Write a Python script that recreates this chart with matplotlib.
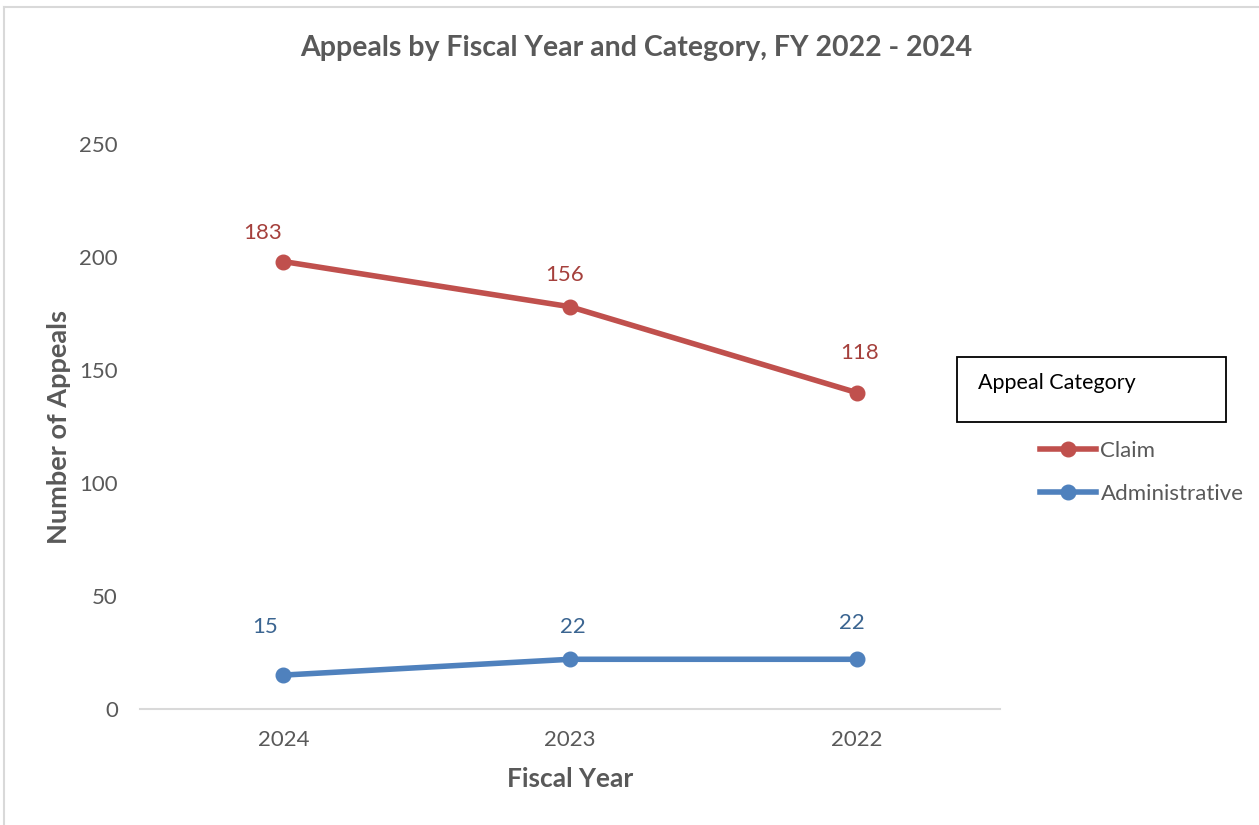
import matplotlib
matplotlib.use("Agg")
from matplotlib import pyplot as plt
from matplotlib.patches import Rectangle
from matplotlib.lines import Line2D
import numpy as np

plt.rcParams['font.family'] = ['Lato', 'DejaVu Sans']

years = ["2024", "2023", "2022"]
claim = [183, 156, 118]
administrative = [15, 22, 22]

# label offsets from the points, in pixels
claim_off = [(-21, 29), (-5, 32), (3, 40)]
admin_off = [(-18, 48), (3, 32), (-5, 36)]

grey = "#595959"
red = "#C0504D"
blue = "#4F81BD"

fig = plt.figure(figsize=(12.59, 8.25), dpi=100)
ax = fig.add_axes([140 / 1259, 1 - 709 / 825, 860 / 1259, 565 / 825])

xs = np.arange(len(years))
admin_vals = np.array(administrative)
# stacked line: claim sits on top of administrative
claim_vals = admin_vals + np.array(claim)

ax.plot(xs, claim_vals, color=red, lw=4, marker="o", ms=10.5, solid_capstyle="round")
ax.plot(xs, admin_vals, color=blue, lw=4, marker="o", ms=10.5, solid_capstyle="round")

for x, y, v, off in zip(xs, claim_vals, claim, claim_off):
    ax.annotate(str(v), (x, y), xytext=off, textcoords="offset pixels",
                ha="center", va="center", fontsize=16, color="#A5403C")
for x, y, v, off in zip(xs, admin_vals, administrative, admin_off):
    ax.annotate(str(v), (x, y), xytext=off, textcoords="offset pixels",
                ha="center", va="center", fontsize=16, color="#3B6591")

ax.set_xlim(-0.5, 2.5)
ax.set_ylim(0, 250)
ax.set_yticks(range(0, 251, 50))
ax.set_xticks(xs)
ax.set_xticklabels(years)
ax.tick_params(length=0, labelsize=16, labelcolor=grey)
ax.tick_params(axis="x", pad=15)
ax.tick_params(axis="y", pad=16)
for s in ["top", "right", "left"]:
    ax.spines[s].set_visible(False)
ax.spines["bottom"].set_color("#D9D9D9")
ax.spines["bottom"].set_linewidth(1.5)

fig.text(636 / 1259, 1 - 48 / 825, "Appeals by Fiscal Year and Category, FY 2022 - 2024",
         ha="center", va="center", fontsize=20.5, fontweight="bold", color=grey)
fig.text(59 / 1259, 1 - 427 / 825, "Number of Appeals", rotation=90,
         ha="center", va="center", fontsize=19.5, fontweight="bold", color=grey)
fig.text(570 / 1259, 1 - 779 / 825, "Fiscal Year",
         ha="center", va="center", fontsize=19, fontweight="bold", color=grey)

# legend title box
fig.patches.append(Rectangle((957 / 1259, 1 - 422 / 825), 269 / 1259, 65 / 825,
                             transform=fig.transFigure, fill=False, ec="black", lw=1.3))
fig.text(978 / 1259, 1 - 383 / 825, "Appeal Category", ha="left", va="center",
         fontsize=15.5, color="black")

handles = [Line2D([], [], color=red, lw=4, marker="o", ms=10.5),
           Line2D([], [], color=blue, lw=4, marker="o", ms=10.5)]
leg = fig.legend(handles, ["Claim", "Administrative"], loc="upper left",
                 bbox_to_anchor=(1040 / 1259, 1 - 441 / 825), frameon=False,
                 fontsize=16, handlelength=2.5, handletextpad=0.22, labelspacing=1.02,
                 borderpad=0, borderaxespad=0)
for t in leg.get_texts():
    t.set_color(grey)

# outer chart border (top and left edges)
fig.add_artist(Line2D([4 / 1259, 1], [1 - 7 / 825, 1 - 7 / 825],
                      transform=fig.transFigure, color="#D9D9D9", lw=1.5))
fig.add_artist(Line2D([4 / 1259, 4 / 1259], [0, 1 - 7 / 825],
                      transform=fig.transFigure, color="#D9D9D9", lw=1.5))

fig.savefig("out.png", dpi=100)
